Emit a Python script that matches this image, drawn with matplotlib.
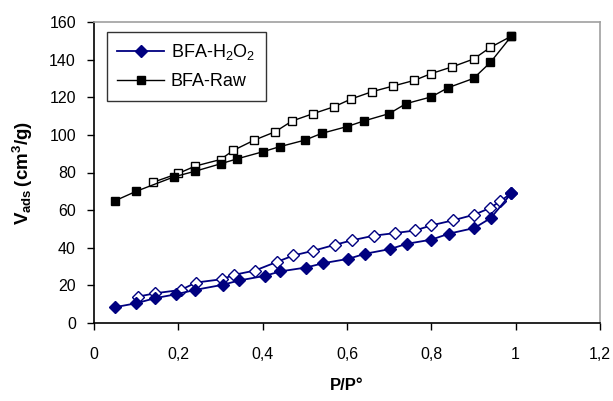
import matplotlib
matplotlib.use("Agg")
import matplotlib.pyplot as plt

plt.rcParams["font.family"] = ["Liberation Sans", "DejaVu Sans"]
plt.rcParams["mathtext.fontset"] = "custom"
plt.rcParams["mathtext.rm"] = "Liberation Sans"
plt.rcParams["mathtext.bf"] = "Liberation Sans:bold"

# ========= data =========
raw_ads_x = [0.05, 0.10, 0.19, 0.24, 0.30, 0.34, 0.40, 0.44, 0.50, 0.54,
             0.60, 0.64, 0.70, 0.74, 0.80, 0.84, 0.90, 0.94, 0.99]
raw_ads_y = [65, 70, 77.7, 80.7, 84.6, 87.3, 91, 93.7, 97.2, 100.8,
             104.4, 107.4, 111.3, 116.6, 120.2, 125.1, 130, 138.5, 152.5]

raw_des_x = [0.14, 0.20, 0.24, 0.30, 0.33, 0.38, 0.43, 0.47, 0.52, 0.57,
             0.61, 0.66, 0.71, 0.76, 0.80, 0.85, 0.90, 0.94, 0.99]
raw_des_y = [74.8, 79.5, 83.4, 86.9, 91.7, 97.2, 101.7, 107.4, 111.3, 115,
             119.1, 123, 126, 129, 132.6, 136.2, 140.3, 146.5, 152.5]

h2o2_ads_x = [0.05, 0.10, 0.145, 0.195, 0.24, 0.305, 0.344, 0.406, 0.441, 0.503,
              0.544, 0.603, 0.643, 0.702, 0.742, 0.80, 0.842, 0.902, 0.941, 0.99]
h2o2_ads_y = [8.4, 10.5, 13.2, 15.3, 17.6, 20.3, 22.6, 25.1, 27.4, 29.5,
              31.8, 34.1, 36.8, 39.3, 42.1, 44.3, 47.5, 50.5, 55.8, 69]

h2o2_des_x = [0.104, 0.145, 0.206, 0.242, 0.304, 0.332, 0.382, 0.433, 0.473, 0.52,
              0.572, 0.611, 0.663, 0.714, 0.762, 0.80, 0.852, 0.902, 0.94, 0.963, 0.99]
h2o2_des_y = [14, 15.8, 17.6, 21.5, 23.3, 25.6, 27.9, 32.4, 35.9, 38.4,
              41.6, 43.9, 46.4, 47.8, 49.2, 51.9, 54.6, 57.6, 61.2, 64.7, 69]

x_ticks = [0, 0.2, 0.4, 0.6, 0.8, 1, 1.2]
x_tick_labels = ["0", "0,2", "0,4", "0,6", "0,8", "1", "1,2"]
y_ticks = [0, 20, 40, 60, 80, 100, 120, 140, 160]

BLUE = "#000080"

fig = plt.figure(figsize=(6.13, 4.01), dpi=100)
ax = fig.add_axes([94 / 613, 1 - 323 / 401, 506 / 613, 301 / 401])

# desorption (open markers)
ax.plot(h2o2_des_x, h2o2_des_y, color=BLUE, lw=1.3, marker="D", ms=6.5,
        mfc="white", mec=BLUE, mew=1)
ax.plot(raw_des_x, raw_des_y, color="black", lw=1.0, marker="s", ms=6,
        mfc="white", mec="black", mew=1)

# adsorption (filled markers)
ax.plot(h2o2_ads_x, h2o2_ads_y, color=BLUE, lw=1.3, marker="D", ms=6.5,
        mfc=BLUE, mec=BLUE, label="BFA-H$_2$O$_2$")
ax.plot(raw_ads_x, raw_ads_y, color="black", lw=1.0, marker="s", ms=6,
        mfc="black", mec="black", label="BFA-Raw")

ax.set_xlim(0, 1.2)
ax.set_ylim(0, 160)
ax.set_xticks(x_ticks)
ax.set_xticklabels(x_tick_labels)
ax.set_yticks(y_ticks)
ax.tick_params(direction="out", length=5, width=1, labelsize=11.5, pad=8, colors="black")
ax.tick_params(axis="x", pad=12)

for side in ["top", "right"]:
    ax.spines[side].set_color("#a0a0a0")
    ax.spines[side].set_linewidth(1.2)
for side in ["left", "bottom"]:
    ax.spines[side].set_color("black")
    ax.spines[side].set_linewidth(1.2)

ax.set_xlabel("P/P°", fontsize=12, fontweight="bold", labelpad=12)
ax.set_ylabel(r"$\mathbf{V_{ads}\,(cm^3/g)}$", fontsize=13.5, labelpad=10)

leg = ax.legend(loc="upper left", bbox_to_anchor=(0.025, 0.968), borderaxespad=0,
                fontsize=13, frameon=True, fancybox=False, handlelength=2.6,
                handletextpad=0.35, edgecolor="black", borderpad=0.6, labelspacing=0.6)
leg.get_frame().set_linewidth(1.0)

fig.savefig("out.png", dpi=100)
